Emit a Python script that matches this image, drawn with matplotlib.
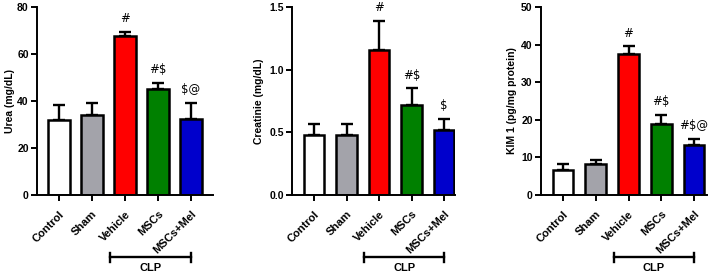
import matplotlib
matplotlib.use("Agg")
import matplotlib.pyplot as plt
import numpy as np

plt.rcParams['font.family'] = ['Liberation Sans', 'DejaVu Sans']

groups = ["Control", "Sham", "Vehicle", "MSCs", "MSCs+Mel"]
colors = ["#FFFFFF", "#A3A3AA", "#FF0000", "#008000", "#0000CC"]

urea_mean = [32, 34, 67.5, 45, 32.5]
urea_err = [6.5, 5, 2, 2.5, 6.5]
urea_sig = ["", "", "#", "#$", "$@"]

creat_mean = [0.48, 0.48, 1.16, 0.72, 0.52]
creat_err = [0.085, 0.085, 0.23, 0.13, 0.085]
creat_sig = ["", "", "#", "#$", "$"]

kim_mean = [6.7, 8.2, 37.5, 19.0, 13.2]
kim_err = [1.5, 1.2, 2.0, 2.3, 1.8]
kim_sig = ["", "", "#", "#$", "#$@"]

W, H = 719, 275
fig = plt.figure(figsize=(W / 100, H / 100), dpi=100)

panels = [
    dict(left=37, right=213, c0=59, sp=33, mean=urea_mean, err=urea_err, sig=urea_sig,
         ylim=80, ticks=[0, 20, 40, 60, 80], tlab=["0", "20", "40", "60", "80"],
         ylabel="Urea (mg/dL)", ylx=15),
    dict(left=292, right=455, c0=314, sp=32.5, mean=creat_mean, err=creat_err, sig=creat_sig,
         ylim=1.5, ticks=[0, 0.5, 1.0, 1.5], tlab=["0.0", "0.5", "1.0", "1.5"],
         ylabel="Creatinie (mg/dL)", ylx=264),
    dict(left=541, right=707, c0=563, sp=32.75, mean=kim_mean, err=kim_err, sig=kim_sig,
         ylim=50, ticks=[0, 10, 20, 30, 40, 50], tlab=["0", "10", "20", "30", "40", "50"],
         ylabel="KIM 1 (pg/mg protein)", ylx=517),
]

top_px, bot_px = 7, 195
for p in panels:
    ax = fig.add_axes([p['left'] / W, (H - bot_px) / H,
                       (p['right'] - p['left']) / W, (bot_px - top_px) / H])
    x = np.arange(len(groups))
    x0 = -(p['c0'] - p['left']) / p['sp']
    x1 = x0 + (p['right'] - p['left']) / p['sp']
    ax.bar(x, p['mean'], width=0.64, color=colors, edgecolor='black', linewidth=1.8, zorder=2)
    ax.errorbar(x, p['mean'], yerr=[np.zeros(len(x)), p['err']], fmt='none',
                ecolor='black', elinewidth=1.7, capsize=4.5, capthick=1.7, zorder=1)
    ax.set_xlim(x0, x1)
    ax.set_ylim(0, p['ylim'])
    ax.set_yticks(p['ticks'])
    ax.set_yticklabels(p['tlab'], fontsize=7.5, fontweight='bold')
    ax.set_xticks(x)
    ax.set_xticklabels(groups, rotation=45, ha='right', rotation_mode='anchor',
                       fontsize=8, fontweight='bold')
    for s in ['top', 'right']:
        ax.spines[s].set_visible(False)
    for s in ['left', 'bottom']:
        ax.spines[s].set_linewidth(1.4)
    ax.tick_params(axis='y', width=1.4, length=4, pad=2)
    ax.tick_params(axis='x', width=1.4, length=4, pad=6)
    ax.set_ylabel(p['ylabel'], fontsize=7.5, fontweight='bold')
    ax.yaxis.set_label_coords((p['ylx'] - p['left']) / (p['right'] - p['left']), 0.5)
    for xi, m, e, s in zip(x, p['mean'], p['err'], p['sig']):
        if s:
            ax.annotate(s, (xi, m + e), xytext=(0, 5), textcoords='offset points',
                        ha='center', va='bottom', fontsize=8.5,
                        family=['DejaVu Sans'])
    # CLP bracket
    tr = ax.get_xaxis_transform()
    yb = (bot_px - 257) / (bot_px - top_px)
    yt = 4.5 / (bot_px - top_px)
    xa, xb = 2 - 0.45, 4
    ax.plot([xa, xb], [yb, yb], color='black', lw=1.7, transform=tr, clip_on=False)
    ax.plot([xa, xa], [yb - yt, yb + yt], color='black', lw=1.7, transform=tr, clip_on=False)
    ax.plot([xb, xb], [yb - yt, yb + yt], color='black', lw=1.7, transform=tr, clip_on=False)
    ycl = (bot_px - 268) / (bot_px - top_px)
    ax.text((xa + xb) / 2, ycl, "CLP", transform=tr, ha='center', va='center',
            fontsize=8, fontweight='bold')

fig.savefig("out.png", dpi=100)
